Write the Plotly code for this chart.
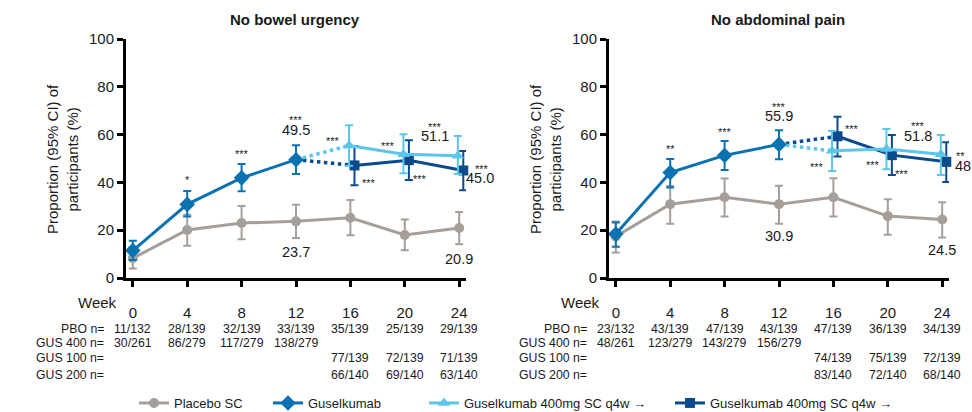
import plotly.graph_objects as go

# ---------------- data ----------------
weeks = [0, 4, 8, 12, 16, 20, 24]
weeks_ind = [0, 4, 8, 12]
weeks_maint = [16, 20, 24]
week_labels = ["0", "4", "8", "12", "16", "20", "24"]

panel_titles = ["No bowel urgency", "No abdominal pain"]
row_labels = ["PBO n=", "GUS 400 n=", "GUS 100 n=", "GUS 200 n="]

# Panel 1: No bowel urgency
u_pbo = [8.3, 20.1, 23.0, 23.7, 25.2, 18.0, 20.9]
u_pbo_lo = [4.0, 13.5, 16.2, 16.7, 17.9, 11.6, 14.1]
u_pbo_hi = [13.0, 26.5, 30.1, 30.7, 32.6, 24.5, 27.6]
u_gus = [11.5, 30.8, 41.9, 49.5]
u_gus_lo = [7.5, 25.7, 36.3, 43.5]
u_gus_hi = [15.6, 36.4, 47.7, 55.5]
u_g100 = [55.4, 51.8, 51.1]
u_g100_lo = [47.0, 43.8, 43.5]
u_g100_hi = [63.9, 60.1, 59.4]
u_g200 = [47.1, 49.3, 45.0]
u_g200_lo = [38.8, 41.0, 36.7]
u_g200_hi = [55.2, 57.6, 53.1]
u_n_pbo = ["11/132", "28/139", "32/139", "33/139", "35/139", "25/139", "29/139"]
u_n_g400 = ["30/261", "86/279", "117/279", "138/279"]
u_n_g100 = ["77/139", "72/139", "71/139"]
u_n_g200 = ["66/140", "69/140", "63/140"]

# Panel 2: No abdominal pain
p_pbo = [17.4, 30.9, 33.8, 30.9, 33.8, 25.9, 24.5]
p_pbo_lo = [10.7, 22.7, 25.7, 22.7, 25.7, 18.1, 16.9]
p_pbo_hi = [23.6, 38.5, 41.6, 38.6, 41.7, 32.9, 31.7]
p_gus = [18.4, 44.1, 51.3, 55.9]
p_gus_lo = [13.1, 37.9, 45.2, 49.7]
p_gus_hi = [23.2, 49.8, 57.3, 61.8]
p_g100 = [53.2, 54.0, 51.8]
p_g100_lo = [44.8, 45.5, 43.1]
p_g100_hi = [61.5, 62.3, 59.8]
p_g200 = [59.3, 51.4, 48.6]
p_g200_lo = [50.8, 43.1, 40.2]
p_g200_hi = [67.5, 59.8, 56.8]
p_n_pbo = ["23/132", "43/139", "47/139", "43/139", "47/139", "36/139", "34/139"]
p_n_g400 = ["48/261", "123/279", "143/279", "156/279"]
p_n_g100 = ["74/139", "75/139", "72/139"]
p_n_g200 = ["83/140", "72/140", "68/140"]

# significance markers: (week, value, text)
u_stars = [(4, 42.4, "*"), (8, 53.3, "***"), (12, 67.5, "***"), (14.7, 58.7, "***"),
           (17.35, 41.0, "***"), (18.8, 56.3, "***"), (21.1, 42.8, "***"),
           (22.2, 64.4, "***"), (25.7, 47.0, "***")]
p_stars = [(4, 55.4, "**"), (8, 62.3, "***"), (12, 72.8, "***"), (17.4, 63.6, "***"),
           (14.8, 47.7, "***"), (18.9, 48.7, "***"), (21.05, 44.9, "***"),
           (22.2, 64.7, "***"), (25.35, 52.2, "**")]

legend_names = ["Placebo SC", "Guselkumab", "Guselkumab 400mg SC q4w \u2192",
                "Guselkumab 400mg SC q4w \u2192"]

# ---------------- style ----------------
C_PBO = "#A69E99"
C_GUS = "#0A72B0"
C_G100 = "#5BC6EA"
C_G200 = "#0B4A8B"
TXT = "#1a1a1a"
FONT = "Liberation Sans, Arial, Helvetica, sans-serif"
OFF_100 = -0.1
OFF_200 = 0.3
XR = [-0.5, 24.5]
YR = [0, 100]

W, H = 972, 412
panels = [
    dict(ax=126, ax_end=466, xa="x", ya="y"),
    dict(ax=609, ax_end=949, xa="x2", ya="y2"),
]
y_bottom, y_top = 278, 39


def px_x(pan, w):
    return pan["ax"] + (w - XR[0]) / (XR[1] - XR[0]) * (pan["ax_end"] - pan["ax"])


def px_y(v):
    return y_bottom - (v - YR[0]) / (YR[1] - YR[0]) * (y_bottom - y_top)


fig = go.Figure()


def err(vals, lo, hi, color):
    return dict(type="data", symmetric=False,
                array=[h - v for v, h in zip(vals, hi)],
                arrayminus=[v - l for v, l in zip(vals, lo)],
                color=color, thickness=2, width=4)


datasets = [
    (u_pbo, u_pbo_lo, u_pbo_hi, u_gus, u_gus_lo, u_gus_hi, u_g100, u_g100_lo, u_g100_hi,
     u_g200, u_g200_lo, u_g200_hi, u_n_pbo, u_n_g400, u_n_g100, u_n_g200, u_stars,
     [(12, 61.9, f"{u_gus[3]:.1f}"), (22.2, 59.4, f"{u_g100[2]:.1f}"),
      (25.5, 41.7, f"{u_g200[2]:.1f}"), (12, 10.7, f"{u_pbo[3]:.1f}"),
      (24, 7.8, f"{u_pbo[6]:.1f}")]),
    (p_pbo, p_pbo_lo, p_pbo_hi, p_gus, p_gus_lo, p_gus_hi, p_g100, p_g100_lo, p_g100_hi,
     p_g200, p_g200_lo, p_g200_hi, p_n_pbo, p_n_g400, p_n_g100, p_n_g200, p_stars,
     [(12, 67.8, f"{p_gus[3]:.1f}"), (22.2, 59.4, f"{p_g100[2]:.1f}"),
      (25.55, 47.0, f"{p_g200[2]:.1f}"[:2]), (12, 17.6, f"{p_pbo[3]:.1f}"),
      (24, 11.7, f"{p_pbo[6]:.1f}")]),
]


def ann(xp, yp, text, size, xanchor="center", **kw):
    d = dict(x=xp / W, y=1 - yp / H, xref="paper", yref="paper", text=text,
             showarrow=False, xanchor=xanchor, yanchor="middle",
             font=dict(size=size, color=TXT))
    d.update(kw)
    return d


annotations = []
for i, (pan, d) in enumerate(zip(panels, datasets)):
    (pbo, pbo_lo, pbo_hi, gus, gus_lo, gus_hi, g100, g100_lo, g100_hi,
     g200, g200_lo, g200_hi, n_pbo, n_g400, n_g100, n_g200, stars, vlabels) = d
    xa, ya = pan["xa"], pan["ya"]
    first = i == 0
    x100 = [w + OFF_100 for w in weeks_maint]
    x200 = [w + OFF_200 for w in weeks_maint]

    fig.add_trace(go.Scatter(
        x=weeks, y=pbo, mode="lines+markers", name=legend_names[0],
        line=dict(color=C_PBO, width=3), marker=dict(symbol="circle", size=10, color=C_PBO),
        error_y=err(pbo, pbo_lo, pbo_hi, C_PBO), xaxis=xa, yaxis=ya, cliponaxis=False,
        showlegend=first, legend="legend"))
    fig.add_trace(go.Scatter(
        x=[weeks_ind[-1], x200[0]], y=[gus[-1], g200[0]], mode="lines",
        line=dict(color=C_G200, width=3.5, dash="dot"), xaxis=xa, yaxis=ya,
        showlegend=False, hoverinfo="skip", cliponaxis=False))
    fig.add_trace(go.Scatter(
        x=[weeks_ind[-1], x100[0]], y=[gus[-1], g100[0]], mode="lines",
        line=dict(color=C_G100, width=3.5, dash="dot"), xaxis=xa, yaxis=ya,
        showlegend=False, hoverinfo="skip", cliponaxis=False))
    fig.add_trace(go.Scatter(
        x=x200, y=g200, mode="lines+markers", name=legend_names[3],
        line=dict(color=C_G200, width=3), marker=dict(symbol="square", size=10, color=C_G200),
        error_y=err(g200, g200_lo, g200_hi, C_G200), xaxis=xa, yaxis=ya, cliponaxis=False,
        showlegend=first, legend="legend4"))
    fig.add_trace(go.Scatter(
        x=x100, y=g100, mode="lines+markers", name=legend_names[2],
        line=dict(color=C_G100, width=3), marker=dict(symbol="triangle-up", size=11, color=C_G100),
        error_y=err(g100, g100_lo, g100_hi, C_G100), xaxis=xa, yaxis=ya, cliponaxis=False,
        showlegend=first, legend="legend3"))
    fig.add_trace(go.Scatter(
        x=weeks_ind, y=gus, mode="lines+markers", name=legend_names[1],
        line=dict(color=C_GUS, width=3), marker=dict(symbol="diamond", size=12, color=C_GUS),
        error_y=err(gus, gus_lo, gus_hi, C_GUS), xaxis=xa, yaxis=ya, cliponaxis=False,
        showlegend=first, legend="legend2"))

    for (wx, wy, t) in stars:
        annotations.append(ann(px_x(pan, wx), px_y(wy) + 3, t, 11))
    for (wx, wy, t) in vlabels:
        annotations.append(ann(px_x(pan, wx), px_y(wy), t, 14.5))

    # panel title
    annotations.append(ann(px_x(pan, 12) - 1, 20, f"<b>{panel_titles[i]}</b>", 15))
    # y title
    annotations.append(ann(pan["ax"] - 63, 159, "Proportion (95% CI) of<br>participants (%)",
                           15, textangle=-90))
    # Week label
    annotations.append(ann(px_x(pan, -1.05), 302, "Week", 15, xanchor="right"))
    # table rows
    row_y = [328.5, 342.5, 357.5, 374.5]
    rows = [(weeks, n_pbo), (weeks_ind, n_g400), (weeks_maint, n_g100), (weeks_maint, n_g200)]
    for lab, ry, (wk, vals) in zip(row_labels, row_y, rows):
        annotations.append(ann(px_x(pan, -1.95), ry, lab, 12.3, xanchor="right"))
        for wv, tv in zip(wk, vals):
            annotations.append(ann(px_x(pan, wv), ry, tv, 12.3))

axis_common = dict(showline=True, linecolor="black", linewidth=3, ticks="outside",
                   ticklen=6, tickwidth=2.5, tickcolor="black", showgrid=False,
                   zeroline=False, fixedrange=True, automargin=False)
ydom = [(H - y_bottom) / H, (H - y_top) / H]
layout_axes = {}
for i, pan in enumerate(panels):
    sfx = "" if i == 0 else "2"
    layout_axes["xaxis" + sfx] = dict(
        domain=[pan["ax"] / W, pan["ax_end"] / W], range=XR,
        tickvals=weeks, ticktext=week_labels, tickfont=dict(size=15, color=TXT),
        ticklabelstandoff=13, anchor="y" + sfx, **axis_common)
    layout_axes["yaxis" + sfx] = dict(
        domain=ydom, range=YR, tickvals=[0, 20, 40, 60, 80, 100],
        tickfont=dict(size=15, color=TXT), anchor="x" + sfx, **axis_common)

leg_common = dict(orientation="h", y=1 - 403 / H, yanchor="middle", xanchor="left",
                  xref="container", yref="container",
                  font=dict(size=13, color=TXT), bgcolor="rgba(0,0,0,0)")
leg_x = [134, 268, 424, 670]

fig.update_layout(
    width=W, height=H, margin=dict(l=0, r=0, t=0, b=0, autoexpand=False),
    paper_bgcolor="white", plot_bgcolor="white",
    font=dict(family=FONT, color=TXT),
    annotations=annotations,
    legend=dict(x=leg_x[0] / W, **leg_common),
    legend2=dict(x=leg_x[1] / W, **leg_common),
    legend3=dict(x=leg_x[2] / W, **leg_common),
    legend4=dict(x=leg_x[3] / W, **leg_common),
    **layout_axes,
)

fig.write_html("out.html",
               config={"displayModeBar": False},
               post_script="document.body.style.margin='0px';"
                           "document.body.style.overflow='hidden';")
